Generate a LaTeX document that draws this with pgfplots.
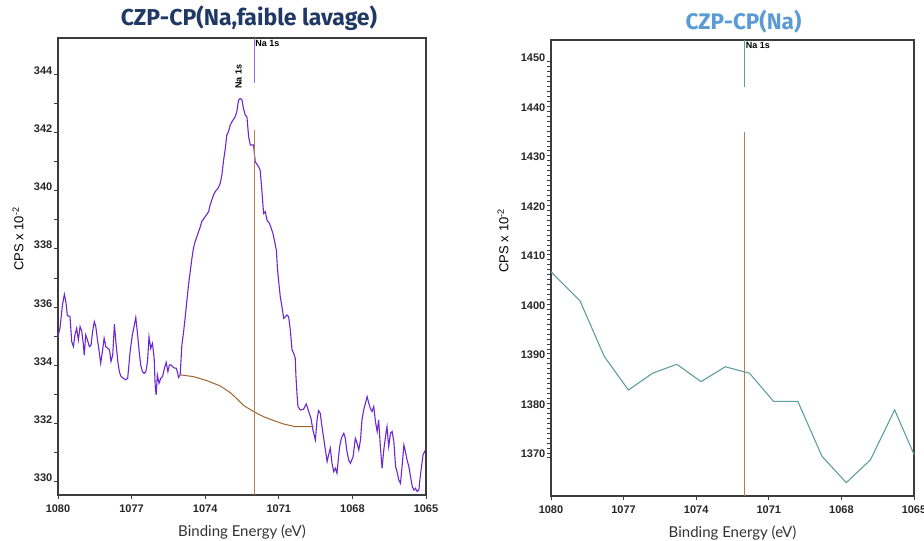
\documentclass[border=0pt]{standalone}
\usepackage{pgfplots}
\pgfplotsset{compat=1.18}
\usepackage{fontspec}
\setmainfont{Liberation Sans}
\newfontfamily\titlefont{Fira Sans}
\newfontfamily\labelfont{Lato}

\definecolor{navytitle}{RGB}{31,56,100}
\definecolor{bluetitle}{RGB}{91,155,213}
\definecolor{framegray}{RGB}{60,60,60}
\definecolor{spec}{RGB}{108,40,208}
\definecolor{speclight}{RGB}{155,105,220}
\definecolor{bkg}{RGB}{160,100,45}
\definecolor{peakline}{RGB}{180,125,75}
\definecolor{tealline}{RGB}{95,158,160}

\pgfplotsset{xps/.style={
  scale only axis, x dir=reverse, xmin=1065, xmax=1080,
  xtick={1065,1068,...,1080}, minor x tick num=1,
  axis line style={draw=framegray, line width=1.2pt},
  tick align=outside, tick pos=left,
  major tick length=4pt, minor tick length=4pt,
  every tick/.style={framegray, line width=0.8pt},
  ticklabel style={font=\fontsize{11}{12}\selectfont\bfseries, text=black!85},
  /pgf/number format/assume math mode=true,
  /pgf/number format/1000 sep={},
  xticklabel style={yshift=-2pt},
  yticklabel style={anchor=base east, inner sep=1.5pt},
  xlabel={Binding Energy (eV)},
  xlabel style={font=\labelfont\fontsize{15}{16}\selectfont, text=black!80, yshift=-6pt},
  ylabel={CPS x 10\textsuperscript{-2}},
  ylabel style={font=\fontsize{13}{14}\selectfont},
  title style={font=\titlefont\bfseries\fontsize{23}{26}\selectfont, anchor=base},
  clip=false,
}}

\begin{document}
\begin{tikzpicture}
\useasboundingbox (0,0) rectangle (924pt,541pt);

% left panel
\begin{axis}[xps, at={(58pt,46pt)}, anchor=south west,
  width=368pt, height=457pt,
  ymin=329.54, ymax=345.25, ytick={330,332,...,344}, minor y tick num=1,
  ylabel style={at={(axis description cs:0,0.56)}, anchor=south, yshift=31pt},
  title={CZP-CP(Na,faible lavage)},
  title style={text=navytitle, at={(0.5,1)}, yshift=6pt, xshift=7pt}]
\addplot[spec, line width=1.1pt] coordinates {
(1080.00,334.95) (1079.99,335.04) (1079.92,335.27) (1079.82,336.07) (1079.74,336.44)
(1079.67,336.13) (1079.62,335.71) (1079.51,335.67) (1079.44,334.81) (1079.37,334.64)
(1079.31,335.04) (1079.24,335.27) (1079.17,334.87) (1079.10,335.33) (1079.03,335.16)
(1078.97,334.75) (1078.93,334.35) (1078.87,335.04) (1078.80,334.87) (1078.72,334.64)
(1078.65,334.70) (1078.59,335.16) (1078.52,335.50) (1078.46,335.33) (1078.39,334.87)
(1078.33,334.53) (1078.26,334.07) (1078.19,334.47) (1078.12,334.93) (1078.05,334.64)
(1077.97,334.58) (1077.90,334.53) (1077.84,334.13) (1077.77,334.35) (1077.70,335.41)
(1077.63,334.70) (1077.56,334.13) (1077.50,333.78) (1077.43,333.61) (1077.33,333.55)
(1077.24,333.50) (1077.16,333.55) (1077.06,334.47) (1076.97,335.04) (1076.90,335.33)
(1076.83,335.64) (1076.76,335.10) (1076.69,334.47) (1076.63,334.01) (1076.56,333.78)
(1076.49,333.72) (1076.42,333.78) (1076.35,334.13) (1076.29,334.98) (1076.22,334.58)
(1076.15,334.75) (1076.08,334.24) (1076.04,333.32) (1076.00,332.98) (1075.95,333.67)
(1075.88,333.38) (1075.81,333.55) (1075.74,333.61) (1075.66,333.90) (1075.59,334.10)
(1075.52,333.78) (1075.46,334.01) (1075.39,334.01) (1075.32,333.95) (1075.25,333.90)
(1075.18,333.90) (1075.12,333.72) (1075.09,333.58) (1075.02,333.67) (1074.95,334.70)
(1074.88,335.15) (1074.82,335.61) (1074.75,336.19) (1074.68,336.76) (1074.61,337.22)
(1074.54,337.68) (1074.48,338.02) (1074.41,338.25) (1074.34,338.42) (1074.27,338.59)
(1074.20,338.76) (1074.14,338.94) (1074.00,339.11) (1073.86,339.28) (1073.80,339.51)
(1073.73,339.68) (1073.66,339.85) (1073.59,339.97) (1073.48,340.08) (1073.39,340.25)
(1073.32,340.54) (1073.25,341.05) (1073.18,341.45) (1073.12,341.91) (1073.05,342.03)
(1072.98,342.26) (1072.91,342.37) (1072.78,342.54) (1072.71,342.72) (1072.64,343.12)
(1072.57,343.17) (1072.50,343.12) (1072.44,342.83) (1072.37,342.60) (1072.30,342.54)
(1072.23,341.86) (1072.16,341.57) (1072.03,341.57) (1071.96,341.00) (1071.82,340.82)
(1071.76,340.71) (1071.69,340.02) (1071.62,339.22) (1071.55,339.28) (1071.48,338.99)
(1071.38,338.88) (1071.31,338.71) (1071.24,338.53) (1071.18,338.30) (1071.10,337.96)
(1071.05,337.27) (1071.01,336.93) (1070.94,336.36) (1070.87,336.01) (1070.80,335.61)
(1070.73,335.67) (1070.67,335.73) (1070.60,335.67) (1070.53,335.21) (1070.46,334.52)
(1070.39,334.41) (1070.33,334.24) (1070.30,333.61) (1070.26,333.04) (1070.22,332.58)
(1070.12,332.46) (1069.99,332.49) (1069.88,332.67) (1069.78,332.41) (1069.69,332.18)
(1069.61,331.78) (1069.51,331.43) (1069.44,332.12) (1069.38,332.44) (1069.31,332.35)
(1069.24,331.89) (1069.17,331.49) (1069.10,331.09) (1069.03,330.69) (1068.97,330.92)
(1068.90,331.15) (1068.83,330.63) (1068.76,330.34) (1068.69,330.46) (1068.63,330.29)
(1068.52,331.20) (1068.45,331.49) (1068.35,331.66) (1068.29,331.49) (1068.22,331.03)
(1068.15,330.74) (1068.08,330.63) (1067.97,330.86) (1067.88,331.49) (1067.81,331.32)
(1067.74,331.09) (1067.67,331.43) (1067.61,332.12) (1067.54,332.46) (1067.47,332.69)
(1067.40,332.92) (1067.33,332.69) (1067.27,332.52) (1067.20,332.41) (1067.13,332.58)
(1067.06,332.06) (1066.99,331.72) (1066.93,332.12) (1066.86,331.20) (1066.79,330.46)
(1066.72,331.09) (1066.65,331.55) (1066.59,331.89) (1066.52,331.20) (1066.45,331.66)
(1066.38,331.72) (1066.31,331.37) (1066.24,330.52) (1066.18,330.34) (1066.11,330.06)
(1066.04,329.94) (1065.97,330.57) (1065.90,331.26) (1065.84,331.03) (1065.77,330.74)
(1065.70,330.52) (1065.63,330.17) (1065.56,329.83) (1065.49,329.71) (1065.43,329.77)
(1065.36,329.66) (1065.29,329.71) (1065.25,330.06) (1065.20,330.40) (1065.12,330.92)
(1065.02,331.09) (1065.00,331.09)
};
\addplot[bkg, line width=1pt] coordinates {
(1075.02,333.67) (1074.48,333.61) (1073.93,333.47) (1073.39,333.29) (1072.98,333.06)
(1072.71,332.85) (1072.44,332.62) (1072.03,332.41) (1071.62,332.23) (1071.21,332.10)
(1070.80,331.98) (1070.33,331.89) (1069.58,331.89)
};
\addplot[peakline, line width=1.5pt] coordinates {(1072,342.1) (1072,329.54)};
\addplot[speclight, line width=1.5pt] coordinates {(1072,345.25) (1072,343.7)};
\node[anchor=north west, inner sep=1pt, font=\fontsize{9}{10}\selectfont\bfseries]
  at (axis cs:1072,345.2) {Na 1s};
\node[rotate=90, anchor=west, inner sep=1pt, font=\fontsize{9}{10}\selectfont\bfseries]
  at (axis cs:1072.64,343.46) {Na 1s};
\end{axis}

% right panel
\begin{axis}[xps, at={(551pt,45pt)}, anchor=south west,
  width=363pt, height=456pt,
  ymin=1362.3, ymax=1454.4, ytick={1370,1380,...,1450}, minor y tick num=9,
  ylabel style={at={(axis description cs:0,0.56)}, anchor=south, yshift=39pt},
  title={CZP-CP(Na)},
  title style={text=bluetitle, font=\titlefont\fontsize{22.5}{26}\selectfont\bfseries,
    at={(0.5,1)}, yshift=4pt, xshift=11pt}]
\addplot[tealline, line width=1.1pt] coordinates {
(1080.0,1407.6) (1079.8,1406.6) (1078.8,1401.7) (1077.8,1390.5) (1076.8,1383.7)
(1075.8,1387.1) (1074.8,1388.9) (1073.8,1385.4) (1072.8,1388.4) (1071.8,1387.1)
(1070.8,1381.4) (1069.8,1381.4) (1068.8,1370.3) (1067.8,1365.0) (1066.8,1369.6)
(1065.8,1379.7) (1065.0,1370.7)
};
\addplot[peakline, line width=1.5pt] coordinates {(1072,1435.8) (1072,1362.3)};
\addplot[tealline, line width=1.3pt] coordinates {(1072,1454.4) (1072,1444.9)};
\node[anchor=north west, inner sep=1pt, font=\fontsize{9}{10}\selectfont\bfseries]
  at (axis cs:1072,1454.2) {Na 1s};
\end{axis}
\end{tikzpicture}
\end{document}
